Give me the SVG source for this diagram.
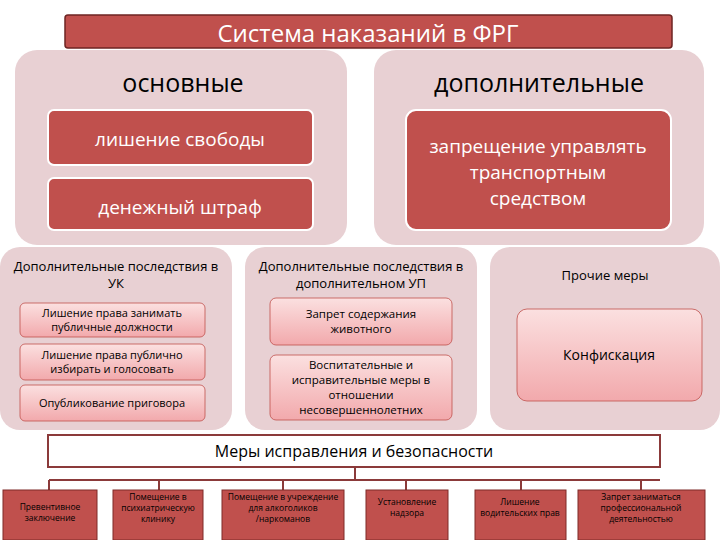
<svg xmlns="http://www.w3.org/2000/svg" width="720" height="540" viewBox="0 0 720 540">
<defs>
<linearGradient id="pk" x1="0" y1="0" x2="0" y2="1"><stop offset="0" stop-color="#fbe0e0"/><stop offset="1" stop-color="#f2a9ac"/></linearGradient>
<style>
text{font-family:"Open Sans","Liberation Sans",sans-serif;text-anchor:middle}
.panel{fill:#e8d0d3}
.red{fill:#c0504d;stroke:#fff;stroke-width:2}
.pink{fill:url(#pk);stroke:#c0504d;stroke-width:0.8}
.w{fill:#fff}
.k{fill:#000}
.bx{fill:#c0504d;stroke:#7f2a28;stroke-width:1}
.ln{stroke:#8b3a3a;stroke-width:2;fill:none}
</style>
</defs>
<rect width="720" height="540" fill="#fff"/>
<g id="title"><rect x="65" y="15" width="607" height="33" rx="3" fill="#c0504d" stroke="#6e2523" stroke-width="1.5"/><text x="368" y="42" class="w" font-size="24">Система наказаний в ФРГ</text></g>
<g id="main"><rect x="15" y="50" width="332" height="195" rx="22" class="panel"/><text x="183" y="92" class="k" font-size="25">основные</text></g>
<g id="m1"><rect x="48" y="110" width="265" height="55" rx="6" class="red"/><text x="180" y="146" class="w" font-size="19">лишение свободы</text></g>
<g id="m2"><rect x="48" y="178" width="265" height="52" rx="6" class="red"/><text x="180" y="214" class="w" font-size="19">денежный штраф</text></g>
<g id="add"><rect x="374" y="50" width="330" height="195" rx="22" class="panel"/><text x="539" y="92" class="k" font-size="25">дополнительные</text></g>
<g id="a1"><rect x="406" y="110" width="265" height="120" rx="10" class="red"/><text x="538" y="153" class="w" font-size="19">запрещение управлять</text><text x="538" y="179" class="w" font-size="19">транспортным</text><text x="538" y="205" class="w" font-size="19">средством</text></g>
<g id="p1"><rect x="0" y="247" width="232" height="183" rx="20" class="panel"/><text x="116" y="271" class="k" font-size="13">Дополнительные последствия в</text><text x="116" y="288" class="k" font-size="13">УК</text></g>
<g id="p1a"><rect x="20" y="303" width="185" height="34" rx="5" class="pink"/><text x="112" y="317" class="k" font-size="11">Лишение права занимать</text><text x="112" y="331" class="k" font-size="11">публичные должности</text></g>
<g id="p1b"><rect x="20" y="344" width="185" height="36" rx="5" class="pink"/><text x="112" y="359" class="k" font-size="11">Лишение права  публично</text><text x="112" y="373" class="k" font-size="11">избирать и голосовать</text></g>
<g id="p1c"><rect x="20" y="385" width="185" height="36" rx="5" class="pink"/><text x="112" y="407" class="k" font-size="11">Опубликование приговора</text></g>
<g id="p2"><rect x="245" y="247" width="232" height="183" rx="20" class="panel"/><text x="361" y="271" class="k" font-size="13">Дополнительные последствия в</text><text x="361" y="288" class="k" font-size="13">дополнительном УП</text></g>
<g id="p2a"><rect x="270" y="298" width="182" height="47" rx="6" class="pink"/><text x="361" y="318" class="k" font-size="11.5">Запрет содержания</text><text x="361" y="333" class="k" font-size="11.5">животного</text></g>
<g id="p2b"><rect x="270" y="355" width="182" height="65" rx="6" class="pink"/><text x="361" y="369" class="k" font-size="11.5">Воспитательные и</text><text x="361" y="384" class="k" font-size="11.5">исправительные меры в</text><text x="361" y="399" class="k" font-size="11.5">отношении</text><text x="361" y="414" class="k" font-size="11.5">несовершеннолетних</text></g>
<g id="p3"><rect x="490" y="247" width="230" height="183" rx="20" class="panel"/><text x="605" y="280" class="k" font-size="13">Прочие меры</text></g>
<g id="p3a"><rect x="517" y="309" width="185" height="92" rx="10" class="pink"/><text x="609" y="360" class="k" font-size="14">Конфискация</text></g>
<g id="connectors">
<path class="ln" d="M355 467V480M49 480H660M49 480V490M159 480V490M283 480V490M406 480V490M521 480V490M641 480V490"/>
</g>
<g id="mer"><rect x="48" y="435" width="612" height="32" fill="#fff" stroke="#8b3a3a" stroke-width="2"/><text x="354" y="457" class="k" font-size="16">Меры исправления и безопасности</text></g>
<g id="b1"><rect x="3" y="490" width="94" height="50" class="bx"/><text x="50" y="510" class="k" font-size="8.5">Превентивное</text><text x="50" y="521" class="k" font-size="8.5">заключение</text></g>
<g id="b2"><rect x="113" y="490" width="90" height="50" class="bx"/><text x="158" y="500" class="k" font-size="8.5">Помещение в</text><text x="158" y="511" class="k" font-size="8.5">психиатрическую</text><text x="158" y="522" class="k" font-size="8.5">клинику</text></g>
<g id="b3"><rect x="222" y="490" width="122" height="50" class="bx"/><text x="283" y="500" class="k" font-size="8.5">Помещение в учреждение</text><text x="283" y="511" class="k" font-size="8.5">для алкоголиков</text><text x="283" y="522" class="k" font-size="8.5">/наркоманов</text></g>
<g id="b4"><rect x="366" y="490" width="82" height="50" class="bx"/><text x="407" y="505" class="k" font-size="8.5">Установление</text><text x="407" y="516" class="k" font-size="8.5">надзора</text></g>
<g id="b5"><rect x="475" y="490" width="91" height="50" class="bx"/><text x="520" y="505" class="k" font-size="8.5">Лишение</text><text x="520" y="516" class="k" font-size="8.5">водительских прав</text></g>
<g id="b6"><rect x="578" y="490" width="127" height="50" class="bx"/><text x="641" y="500" class="k" font-size="8.5">Запрет заниматься</text><text x="641" y="511" class="k" font-size="8.5">профессиональной</text><text x="641" y="522" class="k" font-size="8.5">деятельностью</text></g>
</svg>
